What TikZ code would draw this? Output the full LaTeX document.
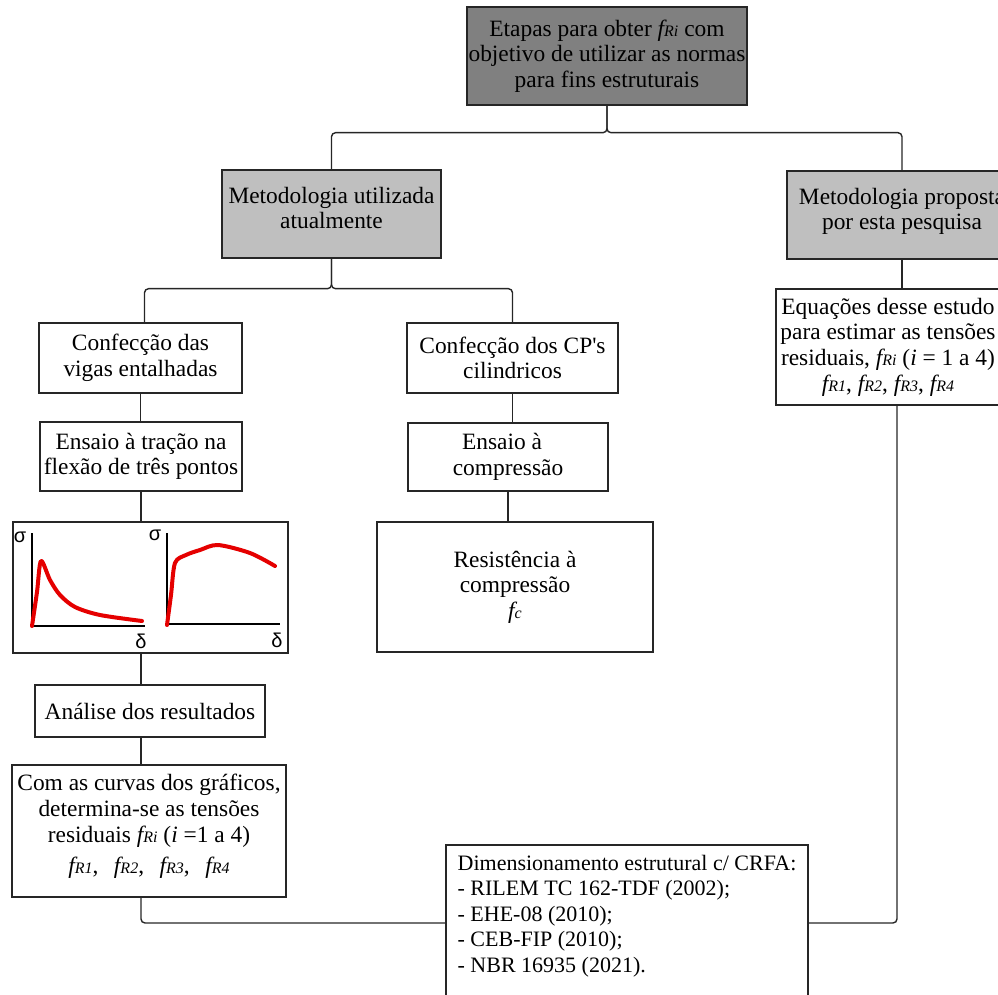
\documentclass[tikz,border=0pt]{standalone}
\usepackage{fontspec}
\setmainfont{Liberation Serif}
\newfontfamily\greekfont{Liberation Sans}
\usepackage{tikz}

\newcommand{\fR}[1]{\textit{f{\fontsize{8}{8}\selectfont R#1}}}

\tikzset{
  box/.style={draw=black!85, line width=0.7pt, align=center, inner sep=0pt,
    font=\fontsize{11.7}{12.8}\selectfont},
  boxsize/.style 2 args={minimum width=#1, minimum height=#2},
  darkbox/.style={box, fill=black!50},
  greybox/.style={box, fill=black!25},
  link/.style={draw=black!85, line width=0.7pt, rounded corners=2pt},
  axis/.style={draw=black, line width=0.8pt},
  curve/.style={draw=red!90!black, line width=2pt, line join=round, line cap=round},
  greek/.style={font=\greekfont\fontsize{10}{10}\selectfont, inner sep=0pt}
}

\begin{document}
\begin{tikzpicture}[x=0.5pt, y=-0.5pt]
\useasboundingbox (0,0) rectangle (998,995);
\clip (0,0) rectangle (998,995);

\node[darkbox, boxsize={140pt}{49pt}] (top) at (607,56) {Etapas para obter \fR{i} com\\objetivo de utilizar as normas\\para fins estruturais};

\node[greybox, boxsize={109.5pt}{44pt}] (mutil) at (331.5,214) {Metodologia utilizada\\atualmente\\[-6.8pt]};
\node[greybox, boxsize={115pt}{44pt}] (mprop) at (902,215) {Metodologia proposta\\por esta pesquisa\\[-6.8pt]};

\node[box, boxsize={112pt}{58pt}] (eq) at (888,347) {Equações desse estudo\\para estimar as tensões\\residuais, \fR{i} (\textit{i} = 1 a 4)\\\fR{1}, \fR{2}, \fR{3}, \fR{4}};

\node[box, boxsize={101.5pt}{35pt}] (vigas) at (140.5,358) {Confecção das\\vigas entalhadas};
\node[box, boxsize={105.5pt}{35pt}] (cps) at (512.5,358) {Confecção dos CP\textquotesingle s\\cilindricos};

\node[box, boxsize={101pt}{34.5pt}] (tracao) at (141,456.5) {Ensaio à tração na\\flexão de três pontos};
\node[box, boxsize={100pt}{34pt}] (compr) at (508,457) {Ensaio à\kern6pt\\compressão};

\node[box, boxsize={137.5pt}{65.5pt}] (graph) at (150.5,587.5) {};
\node[box, boxsize={138pt}{65pt}] (resist) at (515,587) {Resistência à\\compressão\\\textit{f{\fontsize{8}{8}\selectfont c}}};

\node[box, boxsize={115pt}{26pt}] (analise) at (150,711) {Análise dos resultados};

\node[box, boxsize={137pt}{66pt}] (curvas) at (149,831) {Com as curvas dos gráficos,\\determina-se as tensões\\residuais \fR{i} (\textit{i} =1 a 4)\\[3pt]\fR{1}, \, \fR{2}, \, \fR{3}, \, \fR{4}\\[-5.8pt]};

\node[box, boxsize={181pt}{78pt}, align=left, font=\fontsize{11}{12.8}\selectfont] (dim) at (627,923) {Dimensionamento estrutural c/ CRFA:\\- RILEM TC 162-TDF (2002);\\- EHE-08 (2010);\\- CEB-FIP (2010);\\- NBR 16935 (2021).\\[-3.4pt]};

% graficos sigma x delta
\draw[axis] (32,533) -- (32,626) -- (145,626);
\draw[axis] (167,533) -- (167,624) -- (280,624);
\node[greek] (s1) at (20,537) {σ};
\node[greek] (d1) at (141,641) {δ};
\node[greek] (s2) at (155,535) {σ};
\node[greek] (d2) at (277,640) {δ};
\draw[curve] plot[smooth, tension=0.5] coordinates {(32,626) (37,592) (41,561) (50,580) (60,595) (75,607) (100,615) (142,621)};
\draw[curve] plot[smooth, tension=0.5] coordinates {(167,625) (171,595) (175,563) (186,555) (200,550) (218,545) (250,553) (275,566)};

% ligacoes
\draw[link] (top.south) -- ++(0,27) -| (mutil.north);
\draw[link] (top.south) -- ++(0,27) -| (mprop.north);
\draw[link] (mutil.south) -- ++(0,30) -| ([xshift=2pt]vigas.north);
\draw[link] (mutil.south) -- ++(0,30) -| (cps.north);
\draw[link] (mprop.south) -- (mprop.south |- eq.north);
\draw[link] (vigas.south) -- (vigas.south |- tracao.north);
\draw[link] (cps.south) -- (cps.south |- compr.north);
\draw[link] (compr.south) -- (compr.south |- resist.north);
\draw[link] (tracao.south) -- (tracao.south |- graph.north);
\draw[link] (tracao.south |- graph.south) -- (tracao.south |- analise.north);
\draw[link] (tracao.south |- analise.south) -- (tracao.south |- curvas.north);
\draw[link] (tracao.south |- curvas.south) |- (dim.west);
\draw[link] ([xshift=4.5pt]eq.south) |- (dim.east);
\end{tikzpicture}
\end{document}
